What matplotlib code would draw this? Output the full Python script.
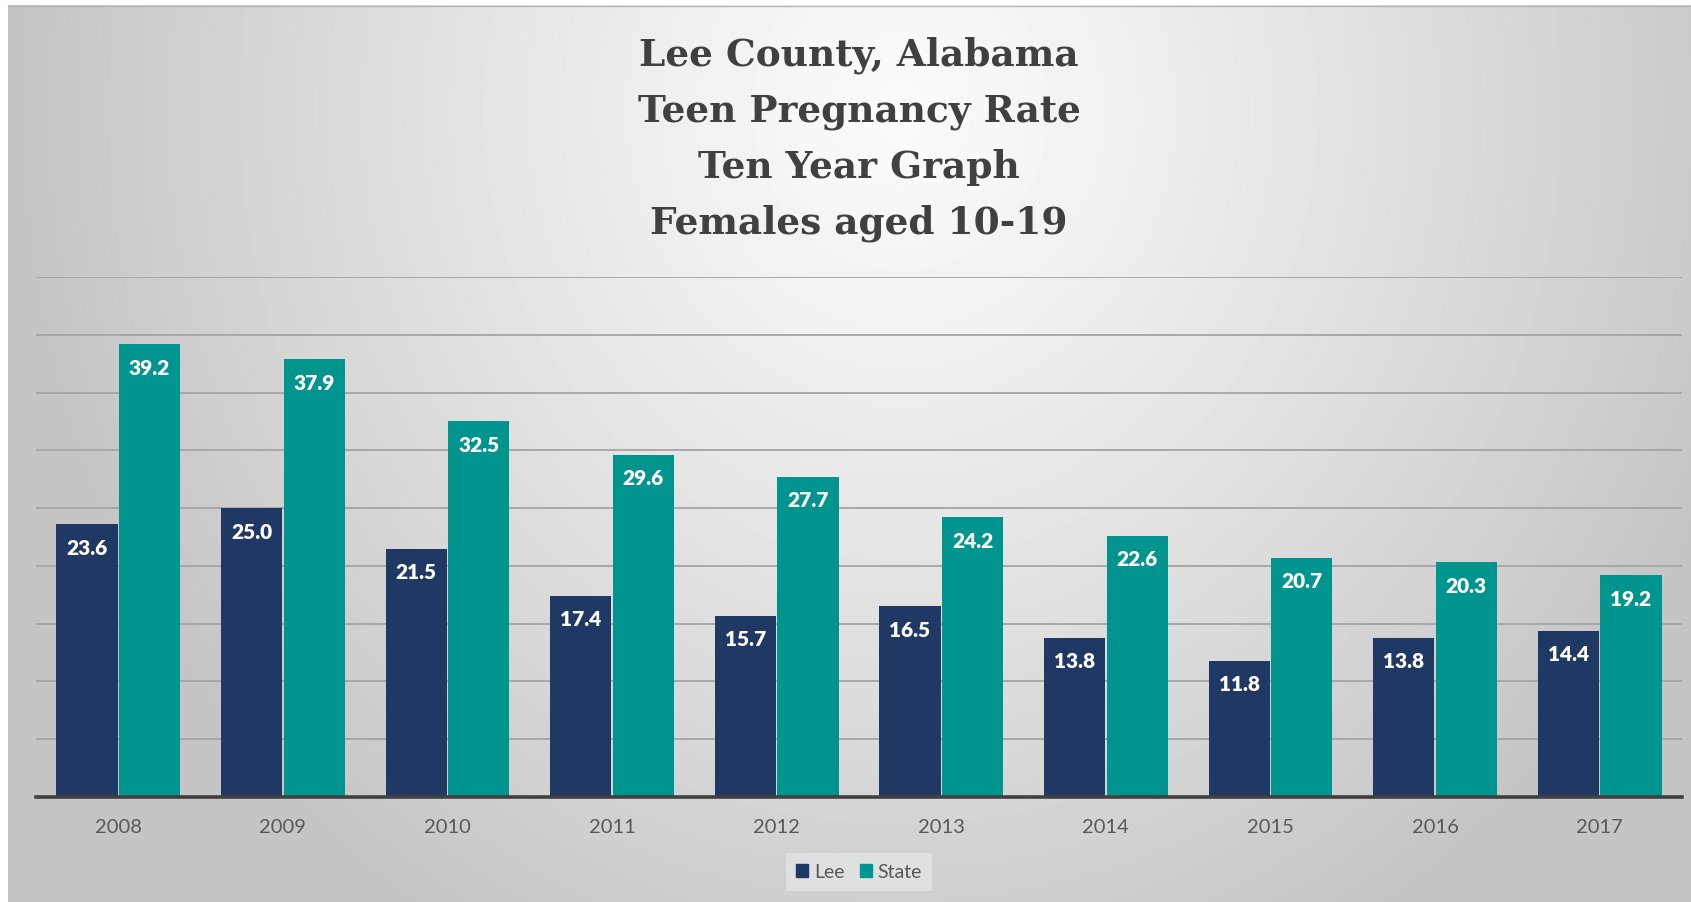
import numpy as np
import matplotlib.pyplot as plt
from matplotlib.patches import Patch

plt.rcParams["font.family"] = ["Lato", "DejaVu Sans"]

# ---- data
years = ["2008", "2009", "2010", "2011", "2012", "2013", "2014", "2015", "2016", "2017"]
lee = [23.6, 25.0, 21.5, 17.4, 15.7, 16.5, 13.8, 11.8, 13.8, 14.4]
state = [39.2, 37.9, 32.5, 29.6, 27.7, 24.2, 22.6, 20.7, 20.3, 19.2]
title_lines = ["Lee County, Alabama", "Teen Pregnancy Rate", "Ten Year Graph", "Females aged 10-19"]

LEE_C = "#203864"
STATE_C = "#00948f"
W, H = 1691, 902

fig = plt.figure(figsize=(W / 100, H / 100), dpi=100, facecolor="white")

# ---- radial gray background
bg = fig.add_axes([0, 0, 1, 1], zorder=-5)
gx, gy = np.meshgrid(np.arange(8, W), np.arange(5, H))
d = np.sqrt(((gx - 900) / 880.0) ** 2 + ((gy - 110) / 950.0) ** 2)
t = np.clip(d, 0, 1) ** 1.15
shade = (251 - 54 * t) / 255.0
bg.imshow(shade, cmap="gray", vmin=0, vmax=1, extent=(8, W, H, 5), aspect="auto")
bg.plot([8, W], [5.5, 5.5], color="#b5b5b5", lw=1)
bg.set_xlim(0, W)
bg.set_ylim(H, 0)
bg.axis("off")

# ---- bars
ax = fig.add_axes([36 / W, 105 / H, (1682 - 36) / W, (797 - 277) / H])
ax.set_facecolor("none")
x = np.arange(len(years))
bw = 0.372
b1 = ax.bar(x - 0.19, lee, bw, color=LEE_C, zorder=3)
b2 = ax.bar(x + 0.19, state, bw, color=STATE_C, zorder=3)

for bars, vals in ((b1, lee), (b2, state)):
    for rect, v in zip(bars, vals):
        ax.annotate(f"{v:.1f}", (rect.get_x() + rect.get_width() / 2, v),
                    xytext=(0, -24), textcoords="offset pixels",
                    ha="center", va="center", color="white",
                    fontsize=15, fontweight="heavy", zorder=4)

ax.set_xlim(-0.5, len(years) - 0.5)
ax.set_ylim(0, 45)
ax.set_yticks(np.arange(0, 46, 5))
ax.yaxis.grid(True, color="#a4a4a4", lw=1.3, zorder=0)
ax.set_axisbelow(True)
ax.tick_params(axis="y", left=False, labelleft=False)
ax.set_xticks(x)
ax.set_xticklabels(years)
ax.tick_params(axis="x", length=0, pad=16, labelsize=14.5, labelcolor="#595959")
for s in ("left", "right", "top"):
    ax.spines[s].set_visible(False)
ax.spines["bottom"].set_color("#404040")
ax.spines["bottom"].set_linewidth(2.6)
ax.spines["bottom"].set_zorder(5)

# ---- title
for i, line in enumerate(title_lines):
    fig.text(859 / W, 1 - (55 + 56 * i) / H, line, ha="center", va="center",
             fontsize=27, fontweight="bold", color="#404040",
             family=["DejaVu Serif"])

# ---- legend
handles = [Patch(color=LEE_C, label="Lee"), Patch(color=STATE_C, label="State")]
leg = fig.legend(handles=handles, loc="center", bbox_to_anchor=(859 / W, 1 - 872 / H),
                 ncol=2, fontsize=14, frameon=True, handlelength=0.6, handleheight=0.6,
                 handletextpad=0.3, columnspacing=0.8, borderpad=0.55)
leg.get_frame().set_facecolor("#e4e4e4")
leg.get_frame().set_edgecolor("none")
leg.get_frame().set_boxstyle("square", pad=0)
for txt in leg.get_texts():
    txt.set_color("#595959")

fig.savefig("out.png", dpi=100, facecolor="white")
